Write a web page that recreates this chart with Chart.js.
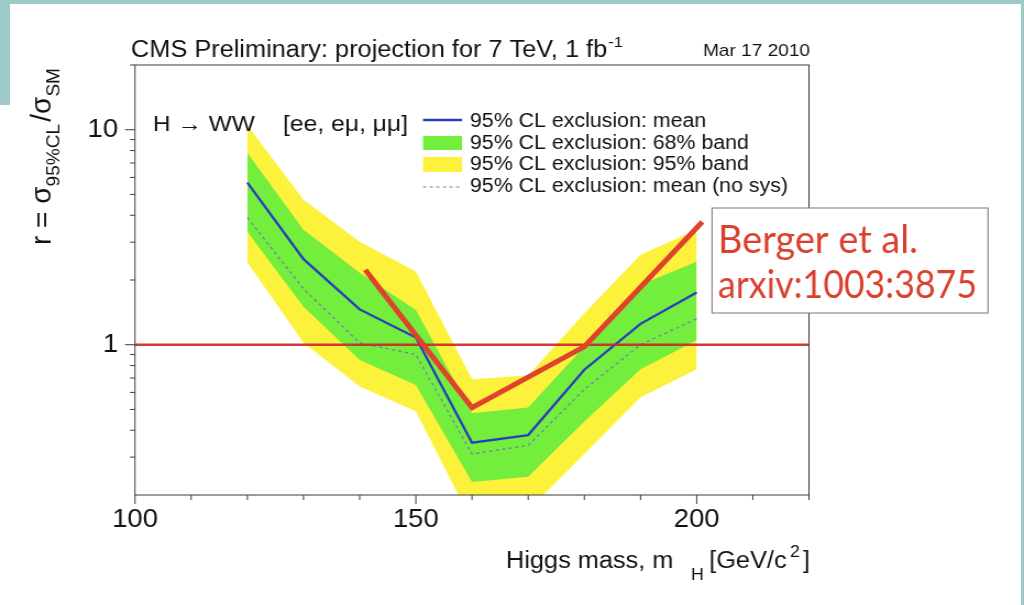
<!DOCTYPE html>
<html>
<head>
<meta charset="utf-8">
<script src="https://cdn.jsdelivr.net/npm/chart.js@4.4.1/dist/chart.umd.min.js"></script>
<style>
  html, body { margin: 0; padding: 0; background: #fff; overflow: hidden; }
  #wrap { position: relative; width: 1024px; height: 605px; background: #fff; }
  .edge { position: absolute; background: #9dc9c9; }
  canvas { position: absolute; left: 0; top: 0; }
</style>
</head>
<body>
<div id="wrap">
  <div class="edge" style="left:0;top:0;width:1024px;height:4px"></div>
  <div class="edge" style="left:0;top:0;width:10px;height:105px"></div>
  <div class="edge" style="left:1021px;top:0;width:3px;height:605px"></div>
  <canvas id="c" width="931" height="605" style="width:1024px;height:605px"></canvas>
</div>
<script>
// Higgs mass points (GeV/c^2)
const MASS = [120, 130, 140, 150, 160, 170, 180, 190, 200];
// expected 95% CL limit on sigma/sigma_SM
const MEAN       = [5.67, 2.50, 1.46, 1.08, 0.35, 0.38, 0.765, 1.25, 1.75];
const MEAN_NOSYS = [3.90, 1.82, 1.02, 0.90, 0.31, 0.34, 0.62, 1.00, 1.32];
const BAND68_HI  = [7.80, 3.43, 2.16, 1.45, 0.48, 0.51, 0.98, 1.90, 2.43];
const BAND68_LO  = [3.35, 1.50, 0.85, 0.65, 0.23, 0.243, 0.44, 0.77, 1.05];
const BAND95_HI  = [10.5, 4.73, 3.01, 2.19, 0.69, 0.72, 1.40, 2.62, 3.43];
const BAND95_LO  = [2.41, 1.02, 0.64, 0.49, 0.15, 0.17, 0.31, 0.57, 0.77];
// Berger et al. projection
const BERGER_MASS = [141, 160, 180, 201];
const BERGER_R    = [2.23, 0.51, 0.98, 3.73];
// reference line r = 1
const UNITY_MASS = [100, 220];
const UNITY_R    = [1, 1];
// axis ticks
const X_LABELS = [100, 150, 200];
const X_MINOR  = [110, 120, 130, 140, 160, 170, 180, 190, 210, 220];
const Y_LABELS = [1, 10];
const Y_MINOR  = [0.3, 0.4, 0.5, 0.6, 0.7, 0.8, 0.9, 2, 3, 4, 5, 6, 7, 8, 9, 20];
const LEGEND_LABELS = [
  '95% CL exclusion: mean',
  '95% CL exclusion: 68% band',
  '95% CL exclusion: 95% band',
  '95% CL exclusion: mean (no sys)'
];

const YELLOW = '#fcf23c';
const GREEN = '#74ee3c';
const BLUE = '#2a3fbd';
const DOTTED = '#6d7bbf';
const RED_LINE = 'rgba(205,40,40,0.92)';
const BERGER_RED = '#e0432d';
const FONT = "'Liberation Sans', Arial, Helvetica, sans-serif";
const BERGER_FONT = "Lato, 'Open Sans', sans-serif";

// the slide is slightly stretched horizontally: canvas pixels are widened by SX on screen
const CW = 931;
const SX = 1024 / CW;
const PLOT_L = 135 / SX, PLOT_R = 809 / SX, PLOT_T = 65, PLOT_B = 495;

const pts = (xs, ys) => xs.map((x, i) => ({ x: x, y: ys[i] }));

function fontStr(size, family) { return size + 'px ' + (family || FONT); }

function runsWidth(ctx, runs) {
  let w = 0;
  for (const r of runs) {
    ctx.font = fontStr(r.size, r.family);
    w += (r.gap || 0) + ctx.measureText(r.t).width;
  }
  return w;
}

// draws a run of text pieces (with sub/superscripts) fitted to a given length
function drawRuns(ctx, runs, x, y, target, color, rotate) {
  const w = runsWidth(ctx, runs);
  const s = target / w;
  ctx.save();
  ctx.translate(x, y);
  if (rotate) ctx.rotate(-Math.PI / 2);
  ctx.scale(s, 1);
  ctx.fillStyle = color;
  ctx.textAlign = 'left';
  ctx.textBaseline = 'alphabetic';
  let cx = 0;
  for (const r of runs) {
    cx += r.gap || 0;
    ctx.font = fontStr(r.size, r.family);
    ctx.fillText(r.t, cx, r.dy || 0);
    cx += ctx.measureText(r.t).width;
  }
  ctx.restore();
  return s;
}

const decorations = {
  id: 'decorations',
  afterDraw(chart) {
    const ctx = chart.ctx;
    const a = chart.chartArea;
    const xs = chart.scales.x, ys = chart.scales.y;

    // frame
    ctx.save();
    ctx.strokeStyle = '#3a3a3a';
    ctx.lineWidth = 1;
    ctx.strokeRect(a.left, a.top, a.right - a.left, a.bottom - a.top);

    // tick marks
    ctx.beginPath();
    for (const v of X_LABELS.concat(X_MINOR)) {
      const px = xs.getPixelForValue(v);
      const len = X_LABELS.includes(v) ? 9 : 5;
      ctx.moveTo(px, a.bottom);
      ctx.lineTo(px, a.bottom + len);
    }
    for (const v of Y_LABELS.concat(Y_MINOR)) {
      const py = ys.getPixelForValue(v);
      const len = (Y_LABELS.includes(v) ? 10 : 5) / SX;
      ctx.moveTo(a.left, py);
      ctx.lineTo(a.left - len, py);
    }
    ctx.stroke();
    ctx.restore();

    // title and date
    drawRuns(ctx, [
      { t: 'CMS Preliminary: projection for 7 TeV, 1 fb', size: 23 },
      { t: '-1', size: 15, dy: -10, gap: 1 }
    ], 131 / SX, 57, (623 - 131) / SX, '#111');
    drawRuns(ctx, [{ t: 'Mar 17 2010', size: 17 }], 703 / SX, 56, 107 / SX, '#111');

    // process label
    drawRuns(ctx, [{ t: 'H \u2192 WW', size: 22.5 }], 153 / SX, 131, 102 / SX, '#111');
    drawRuns(ctx, [{ t: '[ee, e\u03bc, \u03bc\u03bc]', size: 22.5 }], 283 / SX, 131, 125 / SX, '#111');

    // legend
    const symL = 423 / SX, symR = 462 / SX;
    ctx.save();
    ctx.strokeStyle = BLUE; ctx.lineWidth = 2.5;
    ctx.beginPath(); ctx.moveTo(symL, 120); ctx.lineTo(symR, 120); ctx.stroke();
    ctx.fillStyle = GREEN; ctx.fillRect(symL, 136, symR - symL, 14);
    ctx.fillStyle = YELLOW; ctx.fillRect(symL, 157, symR - symL, 15);
    ctx.strokeStyle = DOTTED; ctx.lineWidth = 1.2; ctx.setLineDash([3, 3]);
    ctx.beginPath(); ctx.moveTo(symL, 187); ctx.lineTo(symR, 187); ctx.stroke();
    ctx.restore();
    ctx.font = fontStr(19.5);
    const legScale = (318 / SX) / ctx.measureText(LEGEND_LABELS[3]).width;
    const baselines = [127, 148.5, 170, 191.5];
    LEGEND_LABELS.forEach((t, i) => {
      ctx.font = fontStr(19.5);
      const w = ctx.measureText(t).width * legScale;
      drawRuns(ctx, [{ t: t, size: 19.5 }], 470 / SX, baselines[i], w, '#111');
    });

    // axis titles
    drawRuns(ctx, [
      { t: 'Higgs mass, m', size: 23 },
      { t: 'H', size: 16, dy: 12, gap: 16 },
      { t: '[GeV/c', size: 23, gap: 5 },
      { t: '2', size: 16, dy: -11, gap: 3 },
      { t: ']', size: 23, gap: 3 }
    ], 506 / SX, 568, 304 / SX, '#111');
    drawRuns(ctx, [
      { t: 'r = \u03c3', size: 25 },
      { t: '95%CL', size: 17, dy: 8 },
      { t: '/\u03c3', size: 25, gap: 2 },
      { t: 'SM', size: 17, dy: 8 }
    ], 51 / SX, 245, 177, '#111', true);

    // annotation box
    const bx = 712 / SX, bw = (988 - 712) / SX;
    ctx.save();
    ctx.fillStyle = '#fff';
    ctx.fillRect(bx, 208, bw, 105);
    ctx.strokeStyle = '#777';
    ctx.lineWidth = 1;
    ctx.strokeRect(bx, 208, bw, 105);
    ctx.restore();
    drawRuns(ctx, [{ t: 'Berger et al.', size: 39, family: BERGER_FONT }], 718 / SX, 253, 200 / SX, '#d9412e');
    drawRuns(ctx, [{ t: 'arxiv:1003:3875', size: 39, family: BERGER_FONT }], 718 / SX, 298, 259 / SX, '#d9412e');
  }
};

new Chart(document.getElementById('c'), {
  type: 'line',
  data: {
    datasets: [
      { label: '95% band upper', data: pts(MASS, BAND95_HI), borderWidth: 0, borderColor: 'transparent',
        backgroundColor: YELLOW, fill: '+1', order: 8 },
      { label: '95% band lower', data: pts(MASS, BAND95_LO), borderWidth: 0, borderColor: 'transparent',
        fill: false, order: 7 },
      { label: '68% band upper', data: pts(MASS, BAND68_HI), borderWidth: 0, borderColor: 'transparent',
        backgroundColor: GREEN, fill: '+1', order: 6 },
      { label: '68% band lower', data: pts(MASS, BAND68_LO), borderWidth: 0, borderColor: 'transparent',
        fill: false, order: 5 },
      { label: 'mean (no sys)', data: pts(MASS, MEAN_NOSYS), borderColor: DOTTED, borderWidth: 1.2,
        borderDash: [3, 3], fill: false, order: 4 },
      { label: 'mean', data: pts(MASS, MEAN), borderColor: BLUE, borderWidth: 2.3, fill: false, order: 3 },
      { label: 'r = 1', data: pts(UNITY_MASS, UNITY_R), borderColor: RED_LINE, borderWidth: 2.6, fill: false, order: 2 },
      { label: 'Berger et al.', data: pts(BERGER_MASS, BERGER_R), borderColor: BERGER_RED, borderWidth: 5,
        borderJoinStyle: 'miter', fill: false, order: 1 }
    ]
  },
  options: {
    responsive: false,
    animation: false,
    devicePixelRatio: 1,
    layout: { padding: { top: PLOT_T, right: CW - PLOT_R, left: 0, bottom: 0 } },
    elements: { point: { radius: 0 }, line: { tension: 0 } },
    plugins: { legend: { display: false }, tooltip: { enabled: false } },
    scales: {
      x: {
        type: 'linear', min: 100, max: 220,
        afterFit: s => { s.height = 605 - PLOT_B; },
        afterBuildTicks: s => { s.ticks = X_LABELS.map(v => ({ value: v })); },
        grid: { display: false, drawTicks: false },
        border: { display: false },
        ticks: { color: '#111', padding: 10, maxRotation: 0, autoSkip: false,
                 font: { family: FONT, size: 25 }, callback: v => String(v) }
      },
      y: {
        type: 'logarithmic', min: 0.2, max: 20,
        afterFit: s => { s.width = PLOT_L; },
        afterBuildTicks: s => { s.ticks = Y_LABELS.map(v => ({ value: v })); },
        grid: { display: false, drawTicks: false },
        border: { display: false },
        ticks: { color: '#111', padding: 17 / SX, autoSkip: false,
                 font: { family: FONT, size: 25 }, callback: v => String(v) }
      }
    }
  },
  plugins: [decorations]
});
</script>
</body>
</html>
